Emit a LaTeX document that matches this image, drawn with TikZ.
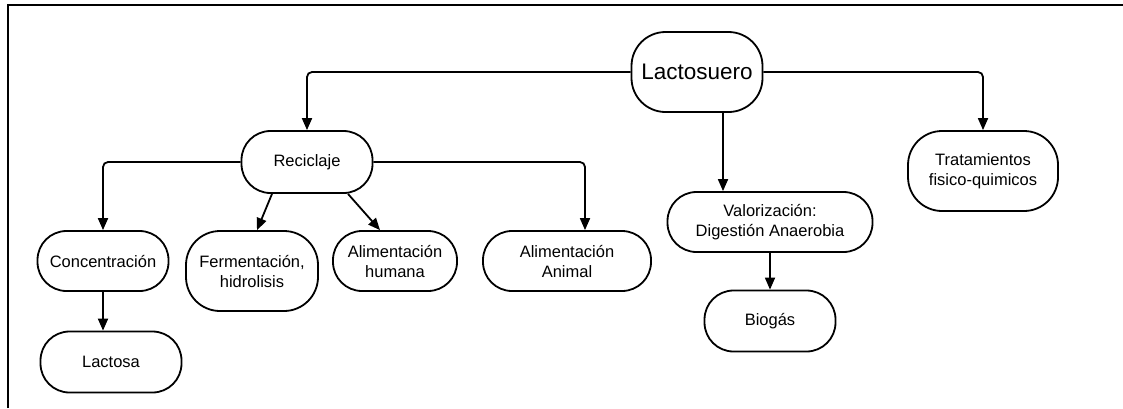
\documentclass[tikz,border=0pt]{standalone}
\usepackage{fontspec}
\setmainfont{Liberation Sans}
\usetikzlibrary{arrows.meta}

\begin{document}
\begin{tikzpicture}[x=1pt,y=-1pt,
		caja/.style={draw,line width=1.8pt,rounded corners=29pt,align=center,
			font=\fontsize{16.5}{20}\selectfont,inner sep=0pt},
		flecha/.style={line width=1.8pt,-{Triangle[length=12pt,width=10pt]}}]
		\useasboundingbox (0,0) rectangle (1123,408);
		\draw[line width=2pt] (8,408) -- (8,5) -- (1123,5);

		\node[caja,minimum width=131pt,minimum height=80pt,rounded corners=34pt,
			font=\fontsize{22.5}{26}\selectfont] (lacto) at (697,72) {Lactosuero};
		\node[caja,minimum width=131pt,minimum height=62pt] (recic) at (307,162) {Reciclaje};
		\node[caja,minimum width=150pt,minimum height=80pt,rounded corners=34pt] (trata) at (983,171) {Tratamientos\\fisico-quimicos};
		\node[caja,minimum width=205pt,minimum height=60pt] (valor) at (770,222) {Valorización:\\Digestión Anaerobia};
		\node[caja,minimum width=131pt,minimum height=61pt] (biog) at (770,321) {Biogás};
		\node[caja,minimum width=131pt,minimum height=60pt] (conc) at (103,261) {Concentración};
		\node[caja,minimum width=141pt,minimum height=61pt] (lact) at (111,362) {Lactosa};
		\node[caja,minimum width=132pt,minimum height=80pt,rounded corners=34pt] (ferm) at (252,271) {Fermentación,\\hidrolisis};
		\node[caja,minimum width=124pt,minimum height=60pt] (hum) at (395,261) {Alimentación\\humana};
		\node[caja,minimum width=168pt,minimum height=60pt] (anim) at (567,261) {Alimentación\\Animal};

		\draw[flecha,rounded corners=5pt] (lacto.west) -| (recic.north);
		\draw[flecha,rounded corners=5pt] (lacto.east) -| (trata.north);
		\draw[flecha] ([xshift=26pt]lacto.south) -- ([xshift=26pt]lacto.south |- valor.north);
		\draw[flecha,rounded corners=5pt] (recic.west) -| (conc.north);
		\draw[flecha,rounded corners=5pt] (recic.east) -| ([xshift=18pt]anim.north);
		\draw[flecha] ([xshift=-35pt]recic.south) -- ([xshift=5pt]ferm.north);
		\draw[flecha] ([xshift=41pt]recic.south) -- ([xshift=-15pt]hum.north);
		\draw[flecha] (conc.south) -- (conc.south |- lact.north);
		\draw[flecha] (valor.south) -- (biog.north);
	\end{tikzpicture}
\end{document}
